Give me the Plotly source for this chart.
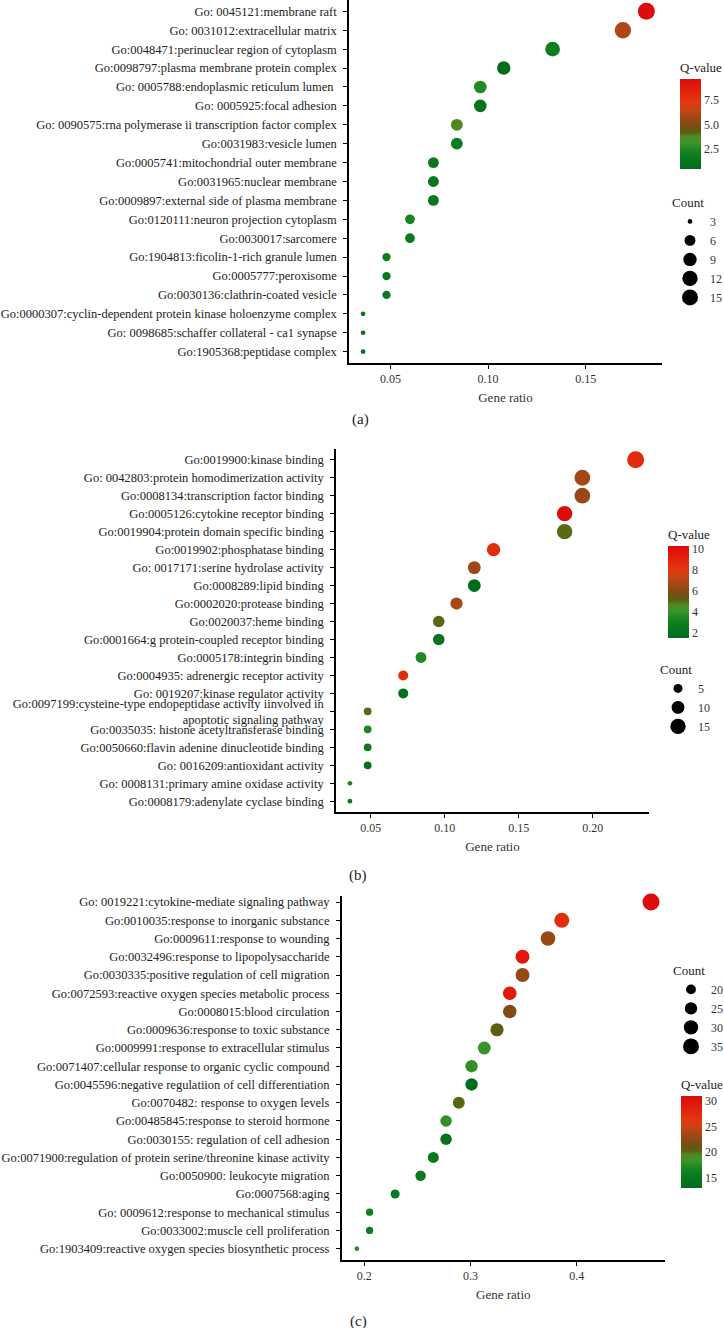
import numpy as np
import plotly.graph_objects as go

W, H = 724, 1328
FONT = "Liberation Serif"

# (a) cellular component
a_terms = [
    "Go: 0045121:membrane raft",
    "Go: 0031012:extracellular matrix",
    "Go:0048471:perinuclear region of cytoplasm",
    "Go:0098797:plasma membrane protein complex",
    "Go: 0005788:endoplasmic reticulum lumen ",
    "Go: 0005925:focal adhesion",
    "Go: 0090575:rna polymerase ii transcription factor complex",
    "Go:0031983:vesicle lumen",
    "Go:0005741:mitochondrial outer membrane",
    "Go:0031965:nuclear membrane",
    "Go:0009897:external side of plasma membrane",
    "Go:0120111:neuron projection cytoplasm",
    "Go:0030017:sarcomere",
    "Go:1904813:ficolin-1-rich granule lumen",
    "Go:0005777:peroxisome",
    "Go:0030136:clathrin-coated vesicle",
    "Go:0000307:cyclin-dependent protein kinase holoenzyme complex",
    "Go: 0098685:schaffer collateral - ca1 synapse",
    "Go:1905368:peptidase complex",
]
a_ratio = [0.181, 0.169, 0.133, 0.108, 0.096, 0.096, 0.084, 0.084, 0.072, 0.072,
           0.072, 0.060, 0.060, 0.048, 0.048, 0.048, 0.036, 0.036, 0.036]
a_count = [15, 14, 11, 9, 8, 8, 7, 7, 6, 6, 6, 5, 5, 4, 4, 4, 3, 3, 3]
a_q = [9.6, 6.0, 2.0, 0.5, 2.6, 1.0, 3.8, 1.8, 1.5, 1.3,
       1.4, 2.4, 1.6, 1.8, 1.5, 1.7, 1.0, 1.0, 1.2]
a_legend = [3, 6, 9, 12, 15]
a_qticks = [2.5, 5.0, 7.5]

# (b) molecular function
b_terms = [
    "Go:0019900:kinase binding",
    "Go: 0042803:protein homodimerization activity",
    "Go:0008134:transcription factor binding",
    "Go:0005126:cytokine receptor binding",
    "Go:0019904:protein domain specific binding",
    "Go:0019902:phosphatase binding",
    "Go: 0017171:serine hydrolase activity",
    "Go:0008289:lipid binding",
    "Go:0002020:protease binding",
    "Go:0020037:heme binding",
    "Go:0001664:g protein-coupled receptor binding",
    "Go:0005178:integrin binding",
    "Go:0004935: adrenergic receptor activity",
    "Go: 0019207:kinase regulator activity",
    "Go:0097199:cysteine-type endopeptidase activity iinvolved in<br>apoptotic signaling pathway",
    "Go:0035035: histone acetyltransferase binding",
    "Go:0050660:flavin adenine dinucleotide binding",
    "Go: 0016209:antioxidant activity",
    "Go: 0008131:primary amine oxidase activity",
    "Go:0008179:adenylate cyclase binding",
]
b_ratio = [0.229, 0.193, 0.193, 0.181, 0.181, 0.133, 0.120, 0.120, 0.108, 0.096,
           0.096, 0.084, 0.072, 0.072, 0.048, 0.048, 0.048, 0.048, 0.036, 0.036]
b_count = [19, 16, 16, 15, 15, 11, 10, 10, 9, 8, 8, 7, 6, 6, 4, 4, 4, 4, 3, 3]
b_q = [8.7, 6.6, 6.4, 10.3, 5.0, 8.6, 6.5, 1.5, 6.7, 5.0,
       2.2, 3.5, 8.6, 1.8, 5.0, 3.4, 2.4, 1.8, 3.4, 2.6]
b_legend = [5, 10, 15]
b_qticks = [2, 4, 6, 8, 10]

# (c) biological process
c_terms = [
    "Go: 0019221:cytokine-mediate signaling pathway",
    "Go:0010035:response to inorganic substance",
    "Go:0009611:response to wounding",
    "Go:0032496:response to lipopolysaccharide",
    "Go:0030335:positive regulation of cell migration",
    "Go:0072593:reactive oxygen species metabolic process",
    "Go:0008015:blood circulation",
    "Go:0009636:response to toxic substance",
    "Go:0009991:response to extracellular stimulus",
    "Go:0071407:cellular response to organic cyclic compound",
    "Go:0045596:negative regulatiion of cell differentiation",
    "Go:0070482: response to oxygen levels",
    "Go:00485845:response to steroid hormone",
    "Go:0030155: regulation of cell adhesion",
    "Go:0071900:regulation of protein serine/threonine kinase activity",
    "Go:0050900: leukocyte migration",
    "Go:0007568:aging",
    "Go: 0009612:response to mechanical stimulus",
    "Go:0033002:muscle cell proliferation",
    "Go:1903409:reactive oxygen species biosynthetic process",
]
c_ratio = [0.470, 0.386, 0.373, 0.349, 0.349, 0.337, 0.337, 0.325, 0.313, 0.301,
           0.301, 0.289, 0.277, 0.277, 0.265, 0.253, 0.229, 0.205, 0.205, 0.193]
c_count = [39, 32, 31, 29, 29, 28, 28, 27, 26, 25, 25, 24, 23, 23, 22, 21, 19, 17, 17, 16]
c_q = [31.0, 27.5, 22.8, 29.5, 22.8, 29.5, 22.0, 20.5, 18.0, 17.8,
       12.9, 20.2, 17.8, 14.0, 15.0, 15.0, 15.0, 16.0, 15.5, 17.5]
c_legend = [20, 25, 30, 35]
c_qticks = [15, 20, 25, 30]

COLORSCALE = [
    [0.0, "#006d1c"], [0.18, "#10801f"], [0.30, "#3d9628"], [0.36, "#4e8a22"],
    [0.41, "#5a6010"], [0.48, "#784c14"], [0.56, "#9a4816"], [0.66, "#c84414"],
    [0.74, "#e2380f"], [0.87, "#e2200d"], [1.0, "#dc0c0a"],
]


def px_x(p):
    return p / W


def px_y(p):
    return 1 - p / H


def dot_size(values, counts, dmin=4.7, dmax=17.0):
    lo, hi = min(counts), max(counts)
    v = np.asarray(values, dtype=float)
    return dmin + (dmax - dmin) * np.sqrt((v - lo) / (hi - lo))


panels = [
    dict(terms=a_terms, ratio=a_ratio, count=a_count, q=a_q, legend=a_legend,
         qticks=a_qticks, qfmt=".1f", xfmt=".2f", xrange=[0.0288, 0.189], xdtick=0.05,
         box=(349, 662, 0, 363), yrange=[-0.6, 18.6],
         cbar=(680, 59, 110), leg=(670, 190), label=("(a)", 360, 420)),
    dict(terms=b_terms, ratio=b_ratio, count=b_count, q=b_q, legend=b_legend,
         qticks=b_qticks, qfmt="d", xfmt=".2f", xrange=[0.0266, 0.238], xdtick=0.05,
         box=(336, 649, 449, 812), yrange=[-0.6, 19.6],
         cbar=(668, 526, 112), leg=(658, 657), label=("(b)", 358, 875)),
    dict(terms=c_terms, ratio=c_ratio, count=c_count, q=c_q, legend=c_legend,
         qticks=c_qticks, qfmt="d", xfmt=".1f", xrange=[0.1787, 0.4832], xdtick=0.1,
         box=(341.7, 665, 896, 1260), yrange=[-0.62, 19.33],
         cbar=(681, 1076, 112), leg=(671, 958), label=("(c)", 358, 1321)),
]

fig = go.Figure()
layout = dict(
    width=W, height=H, margin=dict(l=0, r=0, t=0, b=0, autoexpand=False),
    paper_bgcolor="white", plot_bgcolor="white",
    font=dict(family=FONT, size=12, color="#222"),
    annotations=[],
)

for i, p in enumerate(panels, start=1):
    sfx = "" if i == 1 else str(i)
    xa, ya = "x" + sfx, "y" + sfx
    ca = "coloraxis" + sfx
    lg = "legend" + sfx

    fig.add_trace(go.Scatter(
        x=p["ratio"], y=p["terms"], mode="markers", showlegend=False,
        xaxis=xa, yaxis=ya, cliponaxis=False,
        marker=dict(size=dot_size(p["count"], p["count"]), color=p["q"],
                    coloraxis=ca, line=dict(width=0), opacity=1),
    ))
    # size legend entries
    for v, s in zip(p["legend"], dot_size(p["legend"], p["count"])):
        fig.add_trace(go.Scatter(
            x=[None], y=[None], mode="markers", name=str(v), legend=lg,
            xaxis=xa, yaxis=ya, marker=dict(size=s, color="black"),
        ))

    x0, x1, y0, y1 = p["box"]
    axis_common = dict(showline=True, linecolor="black", linewidth=1.5,
                       ticks="outside", ticklen=4, tickwidth=1, tickcolor="black",
                       showgrid=False, zeroline=False, automargin=False)
    layout["xaxis" + sfx] = dict(
        axis_common, domain=[px_x(x0), px_x(x1)], anchor=ya, range=p["xrange"],
        dtick=p["xdtick"], tick0=0, tickformat=p["xfmt"],
        tickfont=dict(family=FONT, size=12, color="#333"),
        title=dict(text="Gene ratio", font=dict(family=FONT, size=13, color="#333"),
                   standoff=8),
    )
    layout["yaxis" + sfx] = dict(
        axis_common, domain=[px_y(y1), px_y(y0)], anchor=xa,
        type="category", categoryorder="array", categoryarray=p["terms"][::-1],
        range=p["yrange"], ticklabelstandoff=4,
        tickfont=dict(family=FONT, size=12.5, color="#222"),
    )
    cx, cy, clen = p["cbar"]
    layout[ca] = dict(
        colorscale=COLORSCALE,
        colorbar=dict(
            title=dict(text="Q-value", side="top",
                       font=dict(family=FONT, size=13, color="#222")),
            x=px_x(cx), xanchor="left", y=px_y(cy), yanchor="top",
            lenmode="pixels", len=clen, thickness=21, outlinewidth=0,
            ticks="", tickvals=p["qticks"], tickformat=p["qfmt"],
            tickfont=dict(family=FONT, size=12, color="#333"), xpad=0, ypad=0,
        ),
    )
    lx, ly = p["leg"]
    layout[lg] = dict(
        title=dict(text="Count", font=dict(family=FONT, size=13, color="#222")),
        x=px_x(lx), xanchor="left", y=px_y(ly), yanchor="top",
        itemsizing="trace", bgcolor="rgba(0,0,0,0)", tracegroupgap=0,
        traceorder="normal", font=dict(family=FONT, size=12, color="#333"),
    )
    txt, ax_, ay_ = p["label"]
    layout["annotations"].append(dict(
        text=txt, x=px_x(ax_), y=px_y(ay_), xref="paper", yref="paper",
        showarrow=False, font=dict(family=FONT, size=15, color="#222"),
        xanchor="center", yanchor="middle",
    ))

fig.update_layout(**layout)
# page body has a default 8px margin; drop it so the 724x1328 figure fits the window
fig.write_html("out.html", config={"displayModeBar": False},
               post_script="document.body.style.margin='0';")
